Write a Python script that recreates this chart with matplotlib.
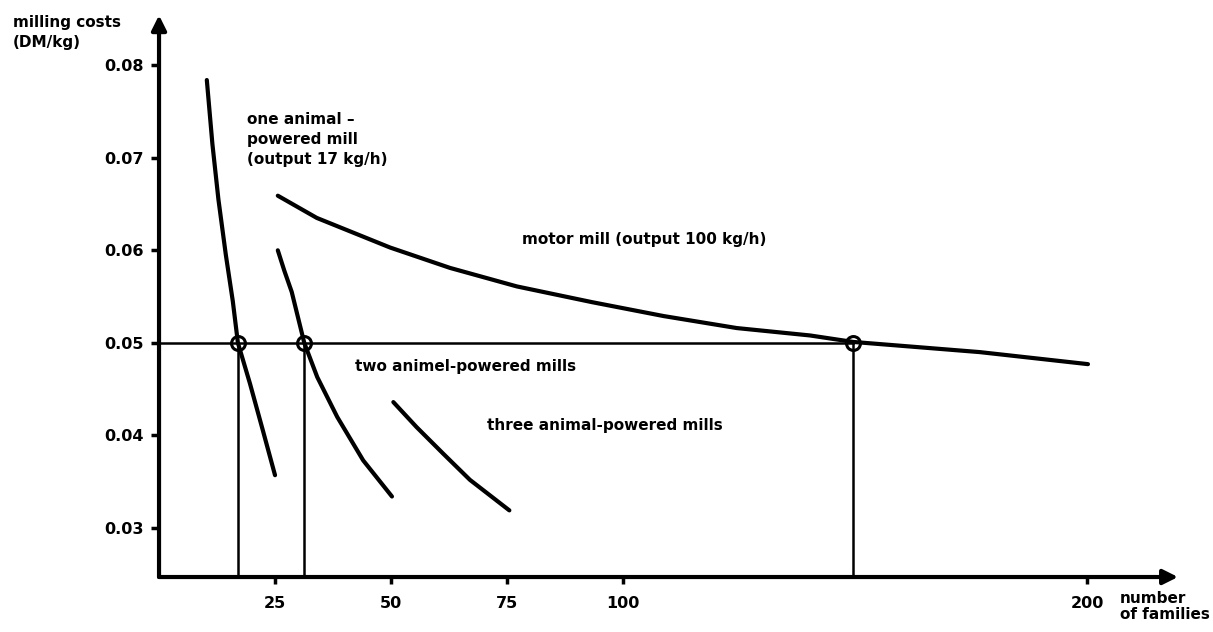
import matplotlib
matplotlib.use("Agg")
import matplotlib.pyplot as plt

# curves (number of families, DM/kg)
one_x = [10.3, 11.5, 12.8, 14.4, 15.9, 17.0, 19.6, 22.4, 25.0]
one_y = [0.0784, 0.0715, 0.0655, 0.0595, 0.0545, 0.0500, 0.0456, 0.0405, 0.0357]

two_x = [25.6, 27.0, 28.6, 31.3, 34.1, 38.4, 44.0, 50.2]
two_y = [0.0600, 0.0578, 0.0555, 0.0500, 0.0463, 0.0420, 0.0373, 0.0334]

three_x = [50.5, 55.5, 61.3, 67.0, 75.5]
three_y = [0.0436, 0.0409, 0.0380, 0.0352, 0.0319]

motor_x = [25.6, 34.0, 49.8, 62.7, 77.1, 93.3, 108.7, 124.5, 140.3, 149.6, 176.9, 200.2]
motor_y = [0.0659, 0.0635, 0.0603, 0.0581, 0.0561, 0.0544, 0.0529, 0.0516, 0.0508, 0.0501, 0.0490, 0.0477]

# break-even points on the 0.05 DM/kg line
cost_level = 0.05
cross_x = [17.0, 31.3, 149.5]

xticks = [25, 50, 75, 100, 200]
yticks = [0.03, 0.04, 0.05, 0.06, 0.07, 0.08]

fig = plt.figure(figsize=(12.13, 6.32), dpi=100)
ax = fig.add_axes([0.1311, 0.087, 0.8607, 0.9094])
ax.set_xlim(0, 225)
ax.set_ylim(0.0247, 0.0868)

for s in ax.spines.values():
    s.set_visible(False)

# axes with arrows
ax.annotate('', xy=(219.6, 0.0247), xytext=(0, 0.0247), annotation_clip=False,
            arrowprops=dict(arrowstyle='-|>', lw=3, color='black', mutation_scale=22,
                            shrinkA=0, shrinkB=0))
ax.annotate('', xy=(0, 0.0854), xytext=(0, 0.0247), annotation_clip=False,
            arrowprops=dict(arrowstyle='-|>', lw=3, color='black', mutation_scale=22,
                            shrinkA=0, shrinkB=0))

# curves
for xs, ys in [(one_x, one_y), (two_x, two_y), (three_x, three_y), (motor_x, motor_y)]:
    ax.plot(xs, ys, color='black', lw=3, solid_capstyle='round', solid_joinstyle='round')

# 0.05 line and verticals
ax.plot([0, cross_x[-1]], [cost_level, cost_level], color='black', lw=1.8)
for cx in cross_x:
    ax.plot([cx, cx], [0.0247, cost_level], color='black', lw=1.8)
ax.plot(cross_x, [cost_level] * len(cross_x), 'o', ms=10, mfc='none',
        mec='black', mew=2.2)

ax.set_xticks(xticks)
ax.set_xticklabels([str(t) for t in xticks])
ax.set_yticks(yticks)
ax.set_yticklabels([f'{t:.2f}' for t in yticks])
ax.tick_params(axis='x', length=5, width=2.5, pad=9, labelsize=11.5)
ax.tick_params(axis='y', length=6, width=2.5, pad=5, labelsize=11.5)
for lab in ax.get_xticklabels() + ax.get_yticklabels():
    lab.set_fontweight('bold')

kw = dict(fontsize=11, fontweight='bold', color='black')
ax.text(19.0, 0.0720, 'one animal –\npowered mill\n(output 17 kg/h)', va='center',
        ha='left', linespacing=1.4, **kw)
ax.text(78.2, 0.0612, 'motor mill (output 100 kg/h)', va='center', ha='left', **kw)
ax.text(42.2, 0.0475, 'two animel-powered mills', va='center', ha='left', **kw)
ax.text(70.7, 0.0411, 'three animal-powered mills', va='center', ha='left', **kw)
ax.text(207.1, 0.0215, 'number\nof families', va='center', ha='left',
        linespacing=1.1, **kw)
fig.text(0.0107, 0.949, 'milling costs\n(DM/kg)', va='center', ha='left',
         linespacing=1.45, **kw)

fig.savefig('out.png', dpi=100)
